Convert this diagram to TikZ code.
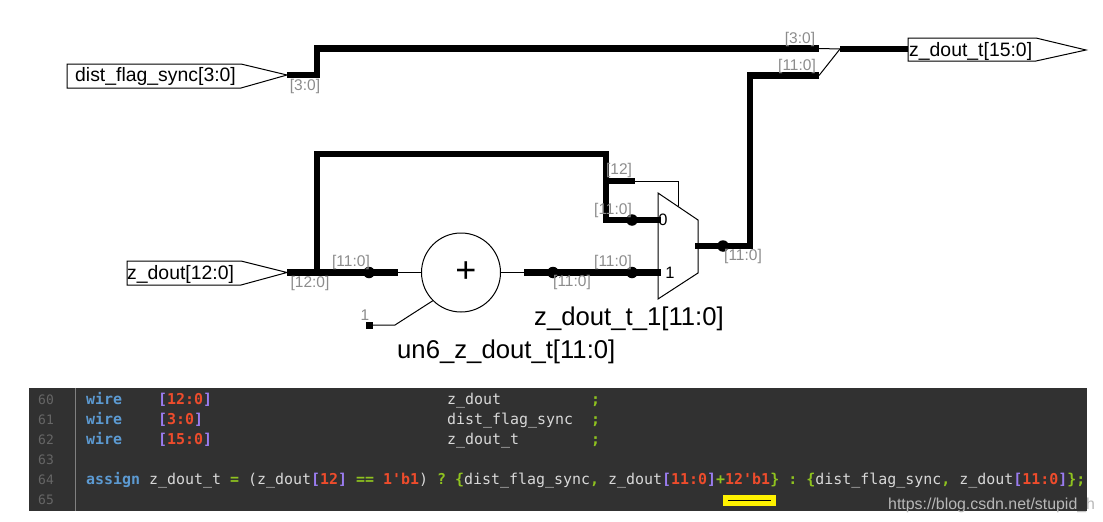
\documentclass[tikz,border=0pt]{standalone}
\usepackage{fontspec}
\setmainfont{Liberation Sans}
\setmonofont{DejaVu Sans Mono}
\definecolor{panelbg}{HTML}{313131}
\definecolor{kw}{HTML}{5C9AD2}
\definecolor{br}{HTML}{9A7CF0}
\definecolor{num}{HTML}{EE4C2C}
\definecolor{op}{HTML}{8FC31F}
\definecolor{txt}{HTML}{D8D8D8}
\definecolor{lno}{HTML}{666666}
\definecolor{busl}{HTML}{8C8C8C}
\newcommand{\kw}[1]{\textcolor{kw}{\bfseries #1}}
\newcommand{\br}[1]{\textcolor{br}{\bfseries #1}}
\newcommand{\nm}[1]{\textcolor{num}{\bfseries #1}}
\newcommand{\opr}[1]{\textcolor{op}{\bfseries #1}}
\tikzset{
  bus/.style={line width=6.5pt,line join=miter,black},
  thin wire/.style={line width=1pt,black},
  outline/.style={line width=1pt,black,fill=white},
  portlabel/.style={inner sep=0pt,anchor=base west,font=\fontsize{19.4}{19.4}\selectfont},
  bigl/.style={inner sep=0pt,anchor=base west,font=\fontsize{25.7}{25.7}\selectfont},
  busl/.style={inner sep=0pt,text=busl,font=\fontsize{15.5}{15.5}\selectfont},
  code/.style={inner sep=0pt,anchor=base west,text=txt,font=\ttfamily\fontsize{14.95}{15}\selectfont\frenchspacing},
  lineno/.style={inner sep=0pt,anchor=base west,text=lno,font=\ttfamily\fontsize{13}{13}\selectfont},
}
\begin{document}
\begin{tikzpicture}[x=1pt,y=-1pt]
\useasboundingbox (0,0) rectangle (1103,522);
% coordinates
\coordinate (p1tip) at (287,75);
\coordinate (p1k) at (317,75);
\coordinate (p1t) at (317,48.5);
\coordinate (c30) at (819,48.5);
\coordinate (cin) at (840,49);
\coordinate (cout) at (908,49);
\coordinate (c11) at (819,75.5);
\coordinate (c11k) at (750,75.5);
\coordinate (outk) at (750,246);
\coordinate (muxo) at (695,246);
\coordinate (p2tip) at (287,272.5);
\coordinate (j1) at (317,272.5);
\coordinate (t1) at (317,154);
\coordinate (t2) at (606,154);
\coordinate (j2) at (606,181);
\coordinate (b12) at (635,181);
\coordinate (sk) at (678,181);
\coordinate (sel) at (678,206);
\coordinate (k0) at (606,220);
\coordinate (in0) at (661,220);
\coordinate (addin) at (398,272.5);
\coordinate (addout) at (524,272.5);
\coordinate (in1) at (661,272.5);
\coordinate (ck) at (395,325);
% adder
\node[circle,draw,line width=1pt,fill=white,minimum size=79pt,inner sep=0pt] (add) at (461,272.5) {};
\node[inner sep=0pt] (plus) at (466,272.5) {\fontsize{36}{36}\selectfont +};
\node[fill=black,minimum size=7pt,inner sep=0pt] (const) at (369,325) {};
% thin wires
\draw[thin wire] (c30) -- (cin);
\draw[thin wire] (c11) -- (cin);
\draw[thin wire] (addin) -- (add.west);
\draw[thin wire] (add.east) -- (addout);
\draw[thin wire] (const) -- (ck) -- (add.225);
\draw[thin wire] (b12) -- (sk) -- (sel);
% mux
\draw[outline] (658,193) -- (698,220) -- (698,273) -- (658,299) -- cycle;
% buses
\draw[bus] (p1tip) -- (p1k) -- (p1t) -- (c30);
\draw[bus] (cin) -- (cout);
\draw[bus] (c11) -- (c11k) -- (outk) -- (muxo);
\draw[bus] (p2tip) -- (addin);
\draw[bus] (j1) -- (t1) -- (t2) -- (k0) -- (in0);
\draw[bus] (j2) -- (b12);
\draw[bus] (addout) -- (in1);
% dots
\foreach \n/\p in {d1/{369,272.5},d2/{553,272.5},d3/{632,272.5},d4/{632,220},d5/{723,246}}
  \node[circle,fill=black,minimum size=11.5pt,inner sep=0pt] (\n) at (\p) {};
% ports
\draw[outline] (67,64) -- (241,64) -- (p1tip) -- (241,88) -- (67,88) -- cycle;
\draw[outline] (127,261) -- (241,261) -- (p2tip) -- (241,285) -- (127,285) -- cycle;
\draw[outline] (908,38) -- (1036,38) -- (1086,50) -- (1036,61) -- (908,61) -- cycle;
\node[portlabel] (l1) at (75,81.5) {dist\_flag\_sync[3:0]};
\node[portlabel] (l2) at (127,279) {z\_dout[12:0]};
\node[portlabel] (l3) at (909,56) {z\_dout\_t[15:0]};
\node[bigl] (l4) at (534,325) {z\_dout\_t\_1[11:0]};
\node[bigl] (l5) at (397,358) {un6\_z\_dout\_t[11:0]};
% mux labels
\node[inner sep=0pt,font=\fontsize{16.5}{16.5}\selectfont] (m0) at (663,220) {0};
\node[inner sep=0pt,font=\fontsize{16.5}{16.5}\selectfont] (m1) at (670,273) {1};
% bus labels
\node[busl] (b1) at (305,86.5) {[3:0]};
\node[busl] (b2) at (800,39.5) {[3:0]};
\node[busl] (b3) at (797,66.5) {[11:0]};
\node[busl] (b4) at (310,283.5) {[12:0]};
\node[busl] (b5) at (351,262.5) {[11:0]};
\node[busl] (b6) at (572,282.5) {[11:0]};
\node[busl] (b7) at (613,262.5) {[11:0]};
\node[busl] (b8) at (619,170.5) {[12]};
\node[busl] (b9) at (613,210.5) {[11:0]};
\node[busl] (b10) at (743,256.5) {[11:0]};
\node[busl] (b11) at (365,315) {1};
% code panel
\fill[panelbg] (29,388) rectangle (1087,511);
\draw[line width=1pt,color=gray] (75.5,388) -- (75.5,511);
\foreach \n/\y in {60/404.7,61/424.7,62/444.7,63/464.7,64/484.7,65/504.7}
  \node[lineno] (n\n) at (38,\y) {\n};
\node[code] (w1) at (86,404.7) {\kw{wire}};
\node[code] (w2) at (86,424.7) {\kw{wire}};
\node[code] (w3) at (86,444.7) {\kw{wire}};
\node[code] (r1) at (158,404.7) {\br{[}\nm{12:0}\br{]}};
\node[code] (r2) at (158,424.7) {\br{[}\nm{3:0}\br{]}};
\node[code] (r3) at (158,444.7) {\br{[}\nm{15:0}\br{]}};
\node[code] (s1) at (447,404.7) {z\_dout};
\node[code] (s2) at (447,424.7) {dist\_flag\_sync};
\node[code] (s3) at (447,444.7) {z\_dout\_t};
\node[code] (e1) at (591,404.7) {\opr{;}};
\node[code] (e2) at (591,424.7) {\opr{;}};
\node[code] (e3) at (591,444.7) {\opr{;}};
\node[code] (asg) at (86,484.7) {\kw{assign} z\_dout\_t \opr{=} (z\_dout\br{[}\nm{12}\br{]} \opr{==} \nm{1'b1}) \opr{?} \opr{\{}dist\_flag\_sync\opr{,} z\_dout\br{[}\nm{11:0}\br{]}\opr{+}\nm{12'b1}\opr{\}} \opr{:} \opr{\{}dist\_flag\_sync\opr{,} z\_dout\br{[}\nm{11:0}\br{]}\opr{\};}};
% highlight
\node[fill=yellow,minimum width=53pt,minimum height=11pt,inner sep=0pt] (hl) at (749.5,500.5) {};
\coordinate (ha) at (728,500.5);
\coordinate (hb) at (771,500.5);
\draw[line width=1pt,black] (ha) -- (hb);
% watermark
\node[inner sep=0pt,anchor=base west,text=black!28,font=\fontsize{15.9}{15.9}\selectfont] (wm) at (888,509) {https://blog.csdn.net/stupid\_h};
\end{tikzpicture}
\end{document}
